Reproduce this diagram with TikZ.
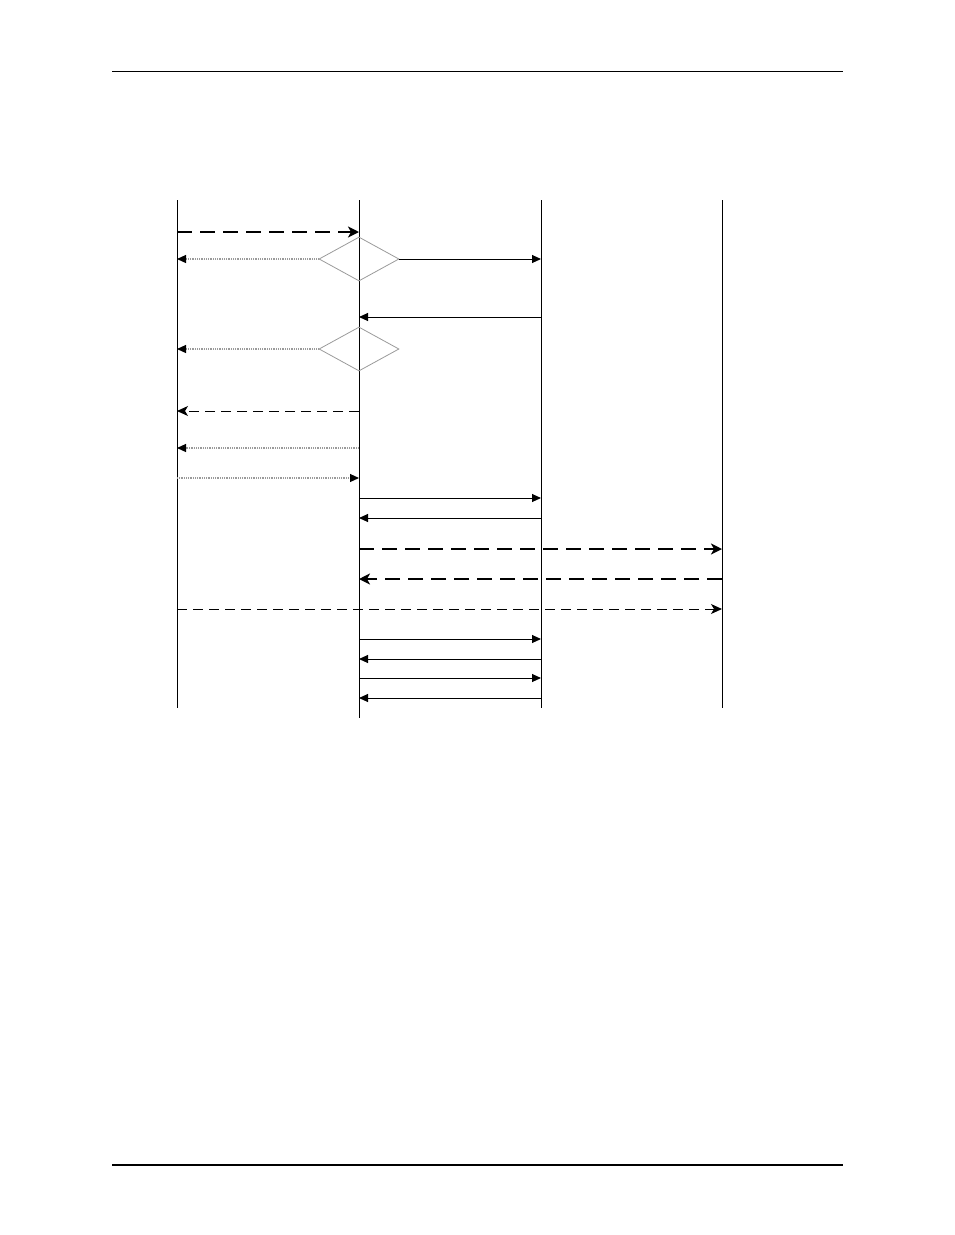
\documentclass[tikz,border=0pt]{standalone}
\usepackage{tikz}
\usetikzlibrary{shapes, arrows.meta, positioning, fit, calc}

\definecolor{dotgray}{HTML}{9A9A9A}

\tikzset{
  lifeline/.style={line width=1pt, black},
  callmsg/.style={line width=1pt, -{Triangle[length=9pt, width=8pt]}},
  asyncmsg/.style={line width=2.4pt, dash pattern=on 15pt off 8pt, -{Stealth[length=11pt, width=11pt, inset=3pt]}},
  signalmsg/.style={line width=1pt, dash pattern=on 10pt off 6pt, -{Stealth[length=11pt, width=10pt, inset=3pt]}},
  notemsg/.style={line width=1.2pt, dotgray, dash pattern=on 1pt off 0.8pt, -{Triangle[length=9pt, width=8pt, fill=black, color=black]}},
  choice/.style={diamond, draw=dotgray, line width=0.8pt, minimum width=80pt, minimum height=44pt, inner sep=0pt}
}

\begin{document}
\begin{tikzpicture}[x=1pt, y=-1pt]
  \useasboundingbox (0,0) rectangle (954,1235);

  % page rules
  \coordinate (topL) at (112,71);
  \coordinate (topR) at (843,71);
  \coordinate (botL) at (112,1165);
  \coordinate (botR) at (843,1165);
  \draw[line width=1pt] (topL) -- (topR);
  \draw[line width=2.2pt] (botL) -- (botR);

  % lifelines
  \coordinate (client) at (177,200);
  \coordinate (proxy)  at (359,200);
  \coordinate (server) at (541,200);
  \coordinate (store)  at (722,200);
  \draw[lifeline] (client) -- ++(0,508);
  \draw[lifeline] (proxy)  -- ++(0,518);
  \draw[lifeline] (server) -- ++(0,508);
  \draw[lifeline] (store)  -- ++(0,508);

  % decisions
  \node[choice] (check1) at (359,259) {};
  \node[choice] (check2) at (359,349) {};

  % messages
  \draw[asyncmsg] (client |- 0,232) -- (proxy |- 0,232);
  \draw[notemsg] (check1.west) -- (client |- check1.west);
  \draw[callmsg] (check1.east) -- (server |- check1.east);
  \draw[callmsg] (server |- 0,317) -- (proxy |- 0,317);
  \draw[notemsg] (check2.west) -- (client |- check2.west);
  \draw[signalmsg] (proxy |- 0,411) -- (client |- 0,411);
  \draw[notemsg] (proxy |- 0,448) -- (client |- 0,448);
  \draw[notemsg] (client |- 0,478) -- (proxy |- 0,478);
  \draw[callmsg] (proxy |- 0,498) -- (server |- 0,498);
  \draw[callmsg] (server |- 0,518) -- (proxy |- 0,518);
  \draw[asyncmsg] (proxy |- 0,549) -- (store |- 0,549);
  \draw[asyncmsg] (store |- 0,579) -- (proxy |- 0,579);
  \draw[signalmsg] (client |- 0,609) -- (store |- 0,609);
  \foreach \y in {639,678} {
    \draw[callmsg] (proxy |- 0,\y) -- (server |- 0,\y);
  }
  \foreach \y in {659,698} {
    \draw[callmsg] (server |- 0,\y) -- (proxy |- 0,\y);
  }
\end{tikzpicture}
\end{document}
